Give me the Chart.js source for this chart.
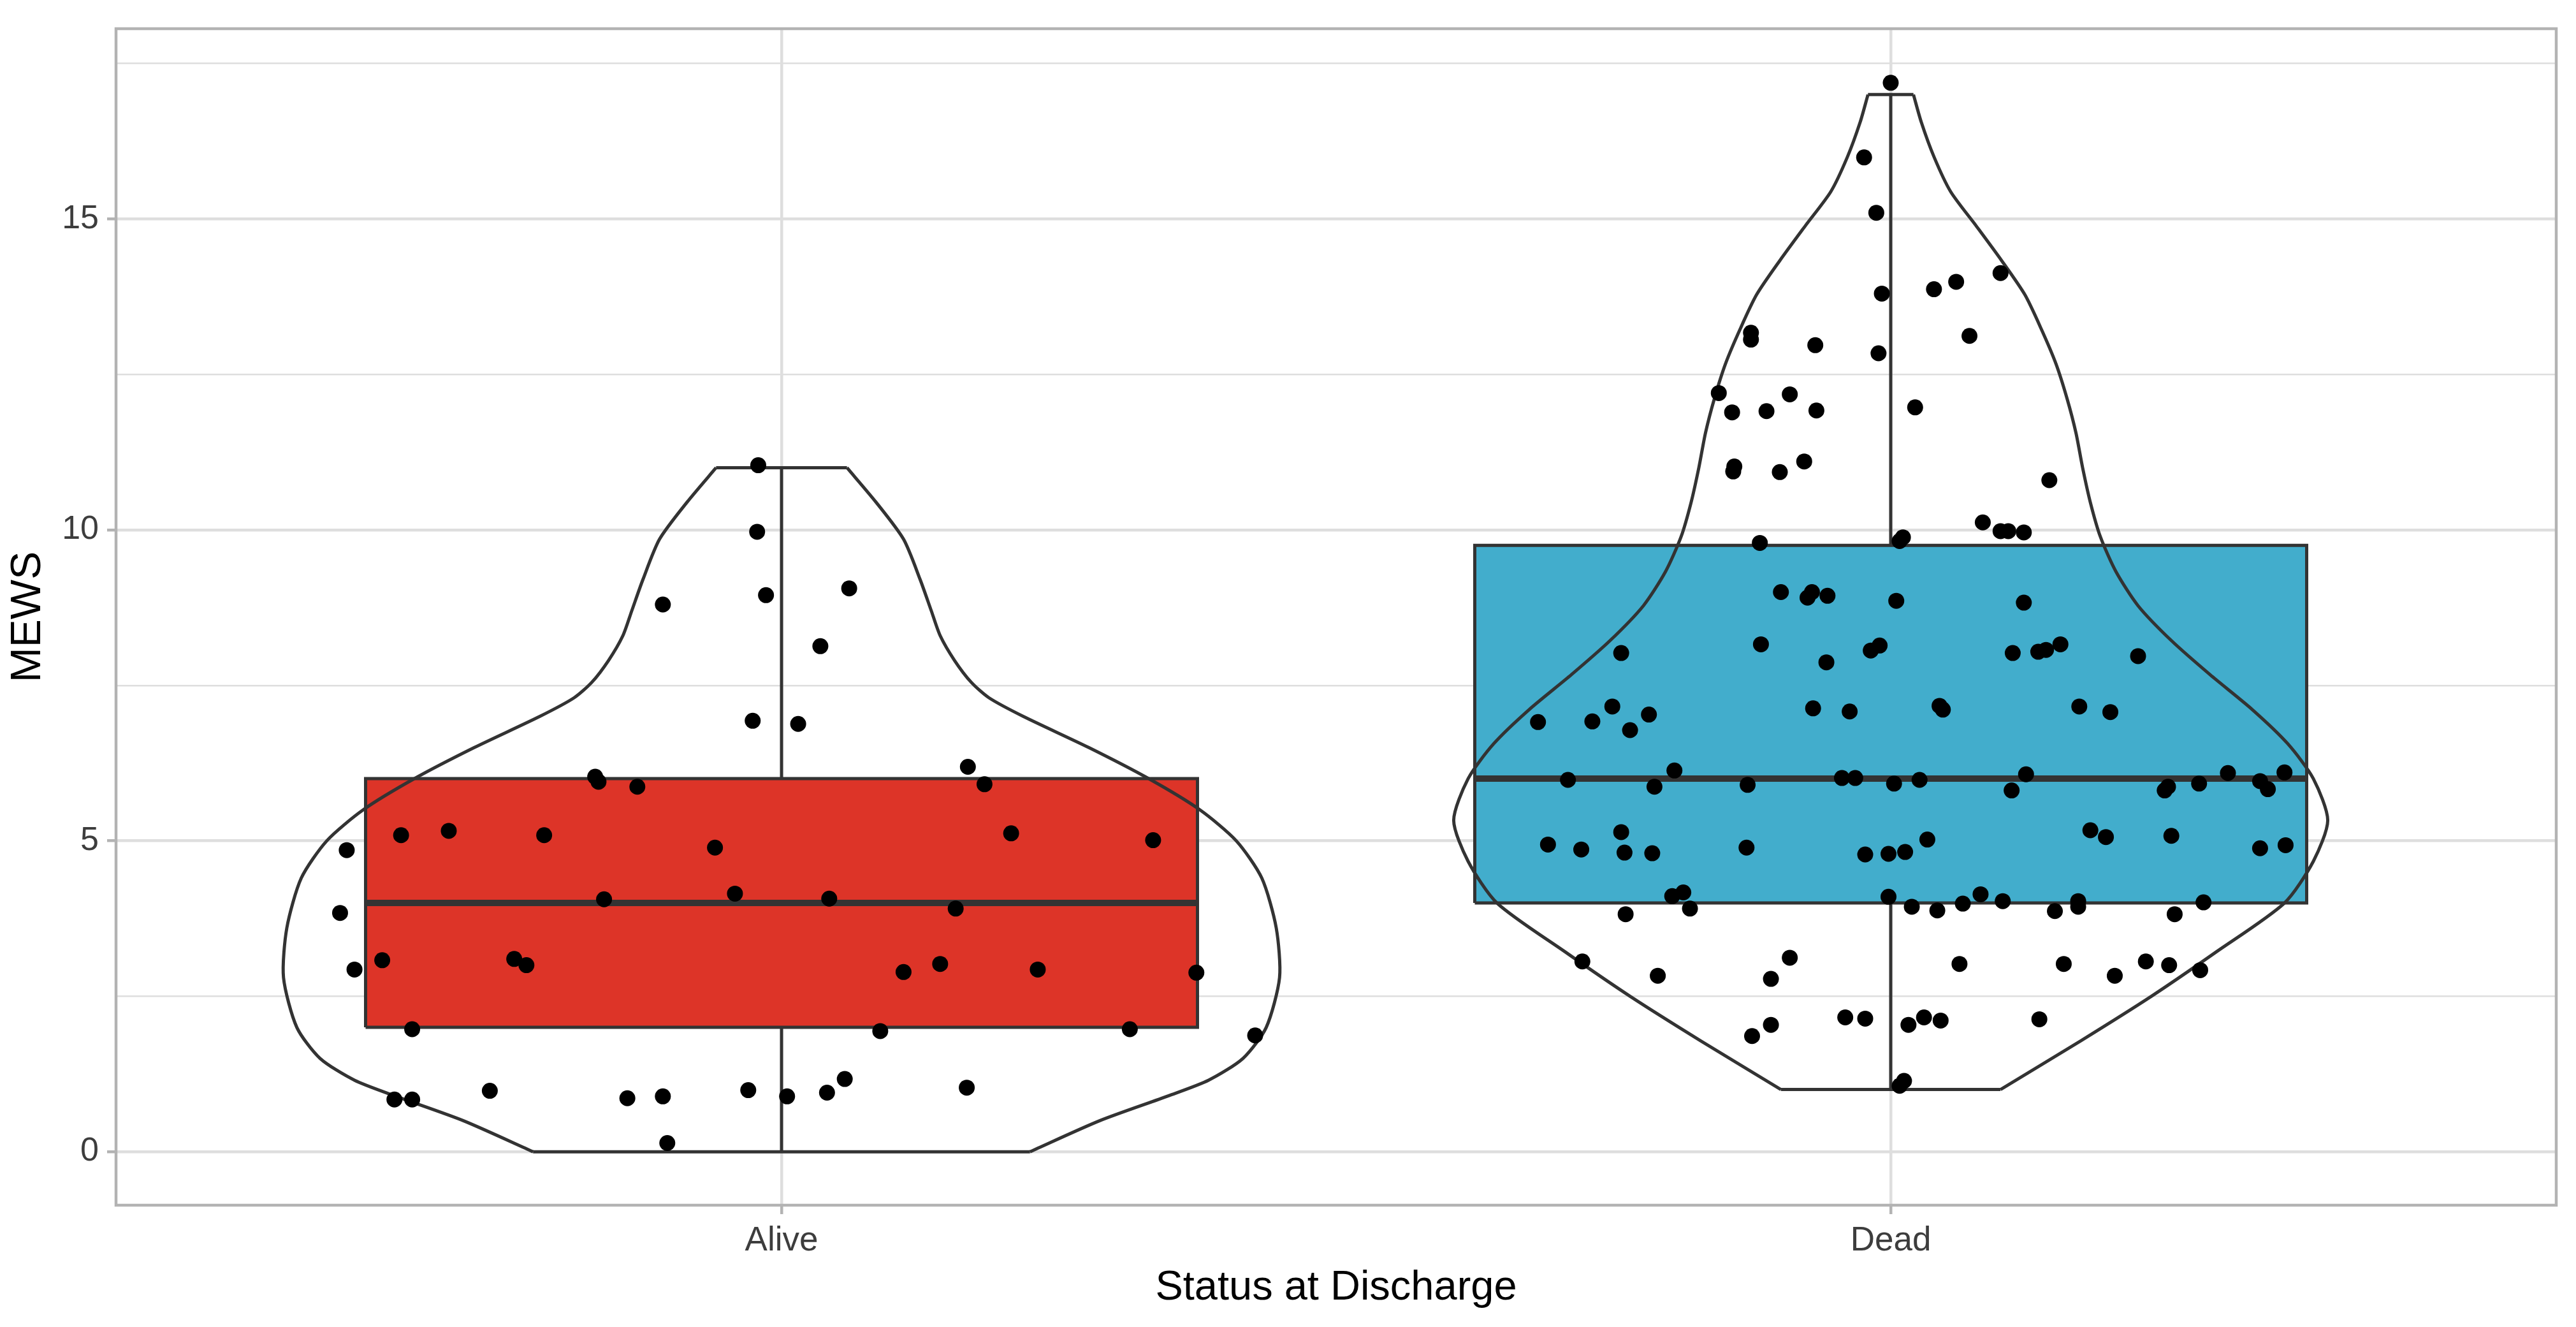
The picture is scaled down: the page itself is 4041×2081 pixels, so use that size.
<!DOCTYPE html>
<html>
<head>
<meta charset="utf-8">
<script src="https://cdn.jsdelivr.net/npm/chart.js@4.4.0/dist/chart.umd.min.js"></script>
<style>
  html, body { margin: 0; padding: 0; background: #ffffff; }
  canvas { display: block; }
</style>
</head>
<body>
<canvas id="chart" width="4041" height="2081" style="width:4041px;height:2081px"></canvas>
<script>
// ---------------- DATA ----------------
const categories = ['Alive', 'Dead'];
const yTickLabels = [0, 5, 10, 15];
const yMinorGrid = [2.5, 7.5, 12.5, 17.5];
const xAxisTitle = 'Status at Discharge';
const yAxisTitle = 'MEWS';

// boxplot statistics per category
const whiskerLow  = [0, 1];
const boxQ1       = [2, 4];
const boxMedian   = [4, 6];
const boxQ3       = [6, 9.75];
const whiskerHigh = [11, 17];
const boxColors   = ['#DD3428', '#42ADCC'];

// violin outline: value levels and half widths (category units)
const aliveViolinY  = [0, 0.5, 0.9, 1.15, 1.5, 2.0, 2.8, 3.6, 4.4, 5.0, 5.5, 6.0, 6.5, 7.0, 7.3, 7.55, 7.9, 8.3, 8.7, 9.2, 9.85, 10.45, 11.0];
const aliveViolinHW = [0.224, 0.287, 0.349, 0.385, 0.416, 0.437, 0.449, 0.446, 0.433, 0.410, 0.377, 0.331, 0.277, 0.218, 0.187, 0.171, 0.156, 0.143, 0.135, 0.125, 0.110, 0.085, 0.059];
const deadViolinY   = [1.0, 1.78, 2.5, 3.22, 4.0, 4.67, 5.33, 6.0, 6.56, 7.11, 7.67, 8.22, 8.78, 9.33, 9.89, 10.44, 11.0, 11.56, 12.11, 12.67, 13.22, 13.78, 14.33, 14.89, 15.44, 16.0, 16.56, 17.0];
const deadViolinHW  = [0.099, 0.171, 0.235, 0.294, 0.355, 0.381, 0.394, 0.381, 0.358, 0.326, 0.288, 0.253, 0.223, 0.203, 0.189, 0.18, 0.173, 0.167, 0.159, 0.149, 0.136, 0.121, 0.1, 0.077, 0.054, 0.039, 0.0275, 0.0205];

// jittered observations: horizontal jitter offset (category units) and MEWS value
const aliveJitter = [-0.021, -0.022, -0.014, -0.107, 0.061, 0.035, -0.026, 0.015, 0.168, -0.168, -0.165, -0.130, 0.183, -0.343, -0.300, -0.214, -0.392, -0.060, 0.207, 0.335, -0.160, -0.042, 0.043, 0.157, -0.398, -0.385, -0.360, -0.241, -0.230, 0.110, 0.143, 0.231, 0.374, -0.333, 0.089, 0.314, 0.427, -0.349, -0.333, -0.263, -0.139, -0.107, -0.030, 0.005, 0.041, 0.057, 0.167, -0.103];
const aliveValues = [11.04, 9.97, 8.95, 8.80, 9.06, 8.13, 6.93, 6.88, 6.19, 6.03, 5.95, 5.87, 5.91, 5.09, 5.16, 5.09, 4.85, 4.89, 5.12, 5.01, 4.06, 4.15, 4.07, 3.91, 3.84, 2.93, 3.08, 3.10, 3.00, 2.89, 3.02, 2.93, 2.88, 1.97, 1.94, 1.97, 1.87, 0.84, 0.84, 0.98, 0.86, 0.89, 0.99, 0.89, 0.95, 1.17, 1.03, 0.14];

const deadJitter = [0.000, -0.024, -0.013, 0.099, 0.059, 0.039, -0.008, 0.071, -0.126, -0.126, -0.068, -0.011, -0.155, -0.091, -0.143, -0.112, -0.067, 0.022, -0.141, -0.142, -0.100, -0.078, 0.143, 0.083, 0.099, 0.106, 0.120, 0.008, 0.011, -0.118, -0.099, -0.075, -0.071, -0.057, 0.005, 0.120, -0.243, -0.117, -0.018, -0.010, -0.058, 0.110, 0.133, 0.140, 0.153, 0.223, -0.318, -0.269, -0.251, -0.235, -0.218, -0.070, -0.037, 0.044, 0.047, 0.170, 0.198, -0.291, -0.213, -0.195, -0.129, -0.044, -0.032, 0.003, 0.026, 0.109, 0.122, 0.247, 0.250, 0.278, 0.304, 0.333, 0.340, 0.355, -0.309, -0.279, -0.243, -0.240, -0.215, -0.130, -0.023, -0.002, 0.013, 0.033, 0.180, 0.194, 0.253, 0.333, 0.356, -0.197, -0.187, -0.181, -0.239, -0.002, 0.019, 0.042, 0.065, 0.081, 0.101, 0.148, 0.169, 0.169, 0.256, 0.282, -0.278, -0.210, -0.091, -0.108, 0.062, 0.156, 0.202, 0.230, 0.251, 0.279, -0.125, -0.108, -0.041, -0.023, 0.016, 0.030, 0.045, 0.134, 0.012, 0.008];
const deadValues = [17.19, 15.99, 15.10, 14.13, 13.99, 13.87, 13.80, 13.12, 13.17, 13.06, 12.97, 12.84, 12.20, 12.18, 11.89, 11.91, 11.92, 11.97, 11.02, 10.94, 10.93, 11.10, 10.80, 10.12, 9.98, 9.98, 9.96, 9.82, 9.88, 9.79, 9.00, 8.91, 9.00, 8.94, 8.86, 8.83, 8.02, 8.16, 8.06, 8.14, 7.87, 8.02, 8.04, 8.07, 8.16, 7.97, 6.91, 6.92, 7.16, 6.78, 7.03, 7.13, 7.08, 7.17, 7.11, 7.16, 7.07, 5.98, 5.87, 6.13, 5.90, 6.01, 6.01, 5.92, 5.98, 5.81, 6.07, 5.81, 5.87, 5.92, 6.09, 5.96, 5.83, 6.10, 4.94, 4.86, 5.14, 4.81, 4.80, 4.89, 4.78, 4.79, 4.82, 5.02, 5.17, 5.06, 5.08, 4.88, 4.93, 4.11, 4.17, 3.91, 3.82, 4.10, 3.94, 3.88, 3.99, 4.14, 4.03, 3.87, 3.94, 4.03, 3.82, 4.01, 3.06, 2.83, 3.12, 2.78, 3.02, 3.02, 2.83, 3.06, 3.00, 2.92, 1.86, 2.04, 2.16, 2.14, 2.04, 2.16, 2.11, 2.13, 1.14, 1.06];

// ---------------- STYLE ----------------
const INK = '#333333';
const GRID = '#DEDEDE';
const AXIS_GREY = '#B3B3B3';
const BOX_HALF = 0.375;
const LINE_W = 5;
const FONT_FAMILY = "'Liberation Sans', Arial, Helvetica, sans-serif";

const violins = [
  { y: aliveViolinY, hw: aliveViolinHW },
  { y: deadViolinY, hw: deadViolinHW }
];
const jitters = [aliveJitter, deadJitter];
const values = [aliveValues, deadValues];

const datasets = [];
categories.forEach((cat, i) => {
  const c = i + 1;
  // box fill
  datasets.push({
    type: 'line', order: 4, showLine: true, pointRadius: 0, borderWidth: 0,
    backgroundColor: boxColors[i], fill: { value: boxQ1[i] },
    data: [{ x: c - BOX_HALF, y: boxQ3[i] }, { x: c + BOX_HALF, y: boxQ3[i] }]
  });
  // box outline
  datasets.push({
    type: 'line', order: 3, showLine: true, pointRadius: 0, borderWidth: LINE_W, borderColor: INK, fill: false,
    borderJoinStyle: 'miter',
    data: [
      { x: c - BOX_HALF, y: boxQ1[i] }, { x: c + BOX_HALF, y: boxQ1[i] },
      { x: c + BOX_HALF, y: boxQ3[i] }, { x: c - BOX_HALF, y: boxQ3[i] },
      { x: c - BOX_HALF, y: boxQ1[i] }
    ]
  });
  // whiskers
  datasets.push({
    type: 'line', order: 3, showLine: true, pointRadius: 0, borderWidth: LINE_W, borderColor: INK, fill: false, spanGaps: false,
    data: [
      { x: c, y: boxQ3[i] }, { x: c, y: whiskerHigh[i] }, { x: c, y: null },
      { x: c, y: whiskerLow[i] }, { x: c, y: boxQ1[i] }
    ]
  });
  // median
  datasets.push({
    type: 'line', order: 3, showLine: true, pointRadius: 0, borderWidth: 10, borderColor: INK, fill: false,
    data: [{ x: c - BOX_HALF, y: boxMedian[i] }, { x: c + BOX_HALF, y: boxMedian[i] }]
  });
  // violin sides
  const v = violins[i];
  [-1, 1].forEach(side => {
    datasets.push({
      type: 'line', order: 2, showLine: true, pointRadius: 0, borderWidth: LINE_W, borderColor: INK, fill: false,
      tension: 0.25,
      data: v.y.map((yy, k) => ({ x: c + side * v.hw[k], y: yy }))
    });
  });
  // violin caps
  const n = v.y.length - 1;
  datasets.push({
    type: 'line', order: 2, showLine: true, pointRadius: 0, borderWidth: LINE_W, borderColor: INK, fill: false, spanGaps: false,
    data: [
      { x: c - v.hw[0], y: v.y[0] }, { x: c + v.hw[0], y: v.y[0] }, { x: c, y: null },
      { x: c - v.hw[n], y: v.y[n] }, { x: c + v.hw[n], y: v.y[n] }
    ]
  });
  // jittered points
  datasets.push({
    type: 'scatter', order: 0, showLine: false,
    pointRadius: 12.5, pointHoverRadius: 12.5, borderWidth: 0,
    backgroundColor: '#000000', pointBackgroundColor: '#000000',
    data: values[i].map((val, k) => ({ x: c + jitters[i][k], y: val }))
  });
});

const panelBorder = {
  id: 'panelBorder',
  afterDraw(chart) {
    const { ctx, chartArea: a } = chart;
    ctx.save();
    ctx.strokeStyle = AXIS_GREY;
    ctx.lineWidth = 4.5;
    ctx.strokeRect(a.left, a.top, a.right - a.left, a.bottom - a.top);
    ctx.restore();
  }
};

new Chart(document.getElementById('chart'), {
  type: 'scatter',
  data: { datasets },
  plugins: [panelBorder],
  options: {
    responsive: false,
    devicePixelRatio: 1,
    animation: false,
    events: [],
    layout: { padding: { left: 0, right: 31, top: 45, bottom: 0 } },
    plugins: { legend: { display: false }, tooltip: { enabled: false } },
    scales: {
      x: {
        type: 'linear', min: 0.4, max: 2.6,
        afterBuildTicks: s => { s.ticks = categories.map((_, i) => ({ value: i + 1 })); },
        afterFit: s => { s.height = 191; },
        grid: { color: GRID, lineWidth: 4.5, tickLength: 14, tickColor: AXIS_GREY, tickWidth: 4.5 },
        border: { display: false },
        ticks: {
          autoSkip: false, maxRotation: 0, padding: 11, color: '#3D3D3D',
          font: { family: FONT_FAMILY, size: 53 },
          callback: v => categories[Math.round(v) - 1] ?? ''
        },
        title: {
          display: true, text: xAxisTitle, color: '#000000',
          font: { family: FONT_FAMILY, size: 65 },
          padding: { top: 0, bottom: 22 }
        }
      },
      y: {
        type: 'linear', min: -0.86, max: 18.06,
        afterBuildTicks: s => {
          s.ticks = [...yTickLabels, ...yMinorGrid].sort((a, b) => a - b).map(v => ({ value: v }));
        },
        afterFit: s => { s.width = 182; },
        grid: {
          color: GRID,
          lineWidth: ctx => yTickLabels.includes(ctx.tick && ctx.tick.value) ? 4.5 : 2.5,
          tickLength: 14,
          tickColor: ctx => yTickLabels.includes(ctx.tick && ctx.tick.value) ? AXIS_GREY : 'rgba(0,0,0,0)',
          tickWidth: 4.5
        },
        border: { display: false },
        ticks: {
          autoSkip: false, padding: 13, color: '#3D3D3D',
          font: { family: FONT_FAMILY, size: 52 },
          callback: v => yTickLabels.includes(v) ? String(v) : ''
        },
        title: {
          display: true, text: yAxisTitle, color: '#000000',
          font: { family: FONT_FAMILY, size: 66 },
          padding: { top: 5, bottom: 0 }
        }
      }
    }
  }
});
</script>
</body>
</html>
